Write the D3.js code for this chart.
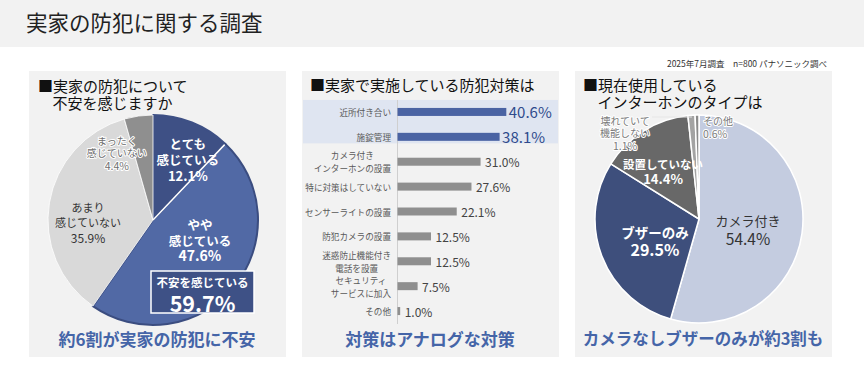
<!DOCTYPE html>
<html><head><meta charset="utf-8">
<script src="https://cdn.jsdelivr.net/npm/d3@7"></script>
<style>
body{margin:0;background:#fff;}
svg{display:block;font-family:"Noto Sans CJK JP","Noto Sans",sans-serif;}
</style></head>
<body>
<svg id="c" width="864" height="383"></svg>
<script>
// ---------- data ----------
const pageTitle = "実家の防犯に関する調査";
const footnote = "2025年7月調査　n=800 パナソニック調べ";

const anxietyTitle = ["■実家の防犯について", "不安を感じますか"];
const anxietyCats = ["とても\n感じている", "やや\n感じている", "あまり\n感じていない", "まったく\n感じていない"];
const anxietyValues = [12.1, 47.6, 35.9, 4.4];
const anxietyTotalLabel = "不安を感じている";
const anxietyTotal = 59.7;
const anxietyCaption = "約6割が実家の防犯に不安";

const measureTitle = "■実家で実施している防犯対策は";
const measureCats = ["近所付き合い", "施錠管理", "カメラ付き\nインターホンの設置", "特に対策はしていない",
  "センサーライトの設置", "防犯カメラの設置", "迷惑防止機能付き\n電話を設置", "セキュリティ\nサービスに加入", "その他"];
const measureValues = [40.6, 38.1, 31.0, 27.6, 22.1, 12.5, 12.5, 7.5, 1.0];
const measureCaption = "対策はアナログな対策";

const intercomTitle = ["■現在使用している", "インターホンのタイプは"];
const intercomCats = ["カメラ付き", "ブザーのみ", "設置していない", "壊れていて\n機能しない", "その他"];
const intercomValues = [54.4, 29.5, 14.4, 1.1, 0.6];
const intercomCaption = "カメラなしブザーのみが約3割も";

// ---------- layout / style ----------
const svg = d3.select("#c");
const panelFill = "#f2f2f2";
const captionColor = "#4565a8";
const fmt = v => v.toFixed(1) + "%";

svg.append("rect").attr("x",0).attr("y",0).attr("width",864).attr("height",47).attr("fill","#f2f2f2");
svg.append("text").attr("x",26).attr("y",31).attr("font-size",21.5).attr("fill","#222").text(pageTitle);
svg.append("text").attr("x",827).attr("y",67).attr("text-anchor","end").attr("font-size",8.5).attr("fill","#333").text(footnote);

const panels = [29, 302, 575];
panels.forEach(px => svg.append("rect").attr("x",px).attr("y",71).attr("width",257).attr("height",286).attr("fill",panelFill));

function multiline(g, x, y, lines, lh, attrs) {
  const t = g.append("text").attr("x",x).attr("y",y).attr("text-anchor","middle").attr("dominant-baseline","central");
  Object.entries(attrs||{}).forEach(([k,v]) => t.attr(k,v));
  const n = lines.length;
  lines.forEach((s,i) => t.append("tspan").attr("x",x).attr("y", y + (i-(n-1)/2)*lh).text(s));
  return t;
}
function polar(cx, cy, r, deg) {
  const a = deg*Math.PI/180;
  return [cx + r*Math.sin(a), cy - r*Math.cos(a)];
}

// ---------- left pie ----------
{
  const g = svg.append("g");
  g.append("text").attr("x",38).attr("y",91.5).attr("font-size",15).attr("fill","#111").text(anxietyTitle[0]);
  g.append("text").attr("x",52.5).attr("y",108.5).attr("font-size",15).attr("fill","#111").text(anxietyTitle[1]);
  const cx = 153, cy = 220, R = 105;
  const colors = ["#3e5085", "#5169a5", "#d9d9d9", "#8f8f8f"];
  const pie = d3.pie().sort(null).value(d => d)(anxietyValues);
  const arc = d3.arc().innerRadius(0).outerRadius(R);
  const pg = g.append("g").attr("transform",`translate(${cx},${cy})`);
  pg.selectAll("path").data(pie).join("path")
    .attr("d", arc).attr("fill",(d,i)=>colors[i])
    .attr("stroke",(d,i)=> i===1 ? "#3b4d80" : (i===0 ? "#3e5085" : "#fff"))
    .attr("stroke-width",(d,i)=> i<2 ? 2 : 0.8).attr("stroke-linejoin","round");
  // white separator between the two blue slices
  const sepA = pie[0].endAngle;
  pg.append("line").attr("x1",0).attr("y1",0)
    .attr("x2", (R-1)*Math.sin(sepA)).attr("y2", -(R-1)*Math.cos(sepA))
    .attr("stroke","#fff").attr("stroke-width",1.5);

  const lab = [
    {r:70, a:29.8, lh:16, size:[12.5,12.5,13], fill:"#fff", weight:"bold"},
    {r:51, a:113, lh:15.5, size:[12.5,12.5,14], fill:"#fff", weight:"bold"},
    {r:65, a:268.2, lh:15, size:[11,11,12], fill:"#333", weight:"normal"},
    {r:77, a:332, lh:12.5, size:[10,10,10.5], fill:"#6e6e6e", weight:"normal", halo:true}
  ];
  anxietyCats.forEach((c,i) => {
    const L = lab[i];
    const [x,y] = polar(cx, cy, L.r, L.a);
    const lines = c.split("\n").concat([fmt(anxietyValues[i])]);
    const t = multiline(g, x, y, lines, L.lh, {fill:L.fill, "font-weight":L.weight});
    t.selectAll("tspan").attr("font-size",(d,j)=>L.size[j]);
    if (L.halo) t.attr("stroke","#fff").attr("stroke-width",2).attr("paint-order","stroke").attr("stroke-linejoin","round");
  });

  // total box
  const bx = 151, by = 271, bw = 103, bh = 42;
  g.append("rect").attr("x",bx).attr("y",by).attr("width",bw).attr("height",bh)
    .attr("fill","#3e5186").attr("stroke","#fff").attr("stroke-width",1.5);
  g.append("text").attr("x",bx+bw/2).attr("y",by+11).attr("text-anchor","middle").attr("dominant-baseline","central")
    .attr("font-size",11.5).attr("font-weight","bold").attr("fill","#fff").text(anxietyTotalLabel);
  g.append("text").attr("x",bx+bw/2).attr("y",by+31).attr("text-anchor","middle").attr("dominant-baseline","central")
    .attr("font-size",21.5).attr("font-weight","bold").attr("fill","#fff").text(fmt(anxietyTotal));

  g.append("text").attr("x",157).attr("y",338).attr("text-anchor","middle").attr("dominant-baseline","central")
    .attr("font-size",17).attr("font-weight","bold").attr("fill",captionColor).text(anxietyCaption);
}

// ---------- middle bar chart ----------
{
  const g = svg.append("g");
  g.append("text").attr("x",310).attr("y",90.5).attr("font-size",15).attr("fill","#111").text(measureTitle);
  const x = d3.scaleLinear().domain([0,100]).range([397, 665]);
  const y = d3.scaleBand().domain(measureCats).range([99.5, 323.5]);
  const bw = y.bandwidth();
  // highlight band for top 2
  g.append("rect").attr("x",303).attr("width",255)
    .attr("y", y(measureCats[0]) + bw/2 - 12)
    .attr("height", (y(measureCats[1]) + bw/2 + 6.5) - (y(measureCats[0]) + bw/2 - 12))
    .attr("fill","#dfe5f1");
  // axis line
  const ax = g.append("g").attr("transform",`translate(${x(0)},0)`)
    .call(d3.axisLeft(y).tickSize(0).tickSizeOuter(0).tickFormat(""));
  ax.select(".domain").attr("stroke","#cfcfcf").attr("stroke-width",1);
  ax.selectAll(".tick").remove();

  const bh = 8;
  g.selectAll("rect.bar").data(measureValues).join("rect").attr("class","bar")
    .attr("x", x(0)+0.5).attr("y",(d,i)=> y(measureCats[i]) + bw/2 - bh/2)
    .attr("width", d => x(d)-x(0)).attr("height", bh)
    .attr("fill",(d,i)=> i<2 ? "#4a63a3" : "#8f8f8f");
  g.selectAll("text.val").data(measureValues).join("text").attr("class","val")
    .attr("x",(d,i)=> x(d) + (i<2 ? 3 : 5)).attr("y",(d,i)=> y(measureCats[i]) + bw/2)
    .attr("dominant-baseline","central")
    .attr("font-size",(d,i)=> i<2 ? 15 : 12)
    .attr("fill",(d,i)=> i<2 ? "#2f4b8c" : "#444")
    .text(d => fmt(d));

  measureCats.forEach((c,i) => {
    const lines = c.split("\n");
    const cy = y(c) + bw/2;
    const t = g.append("text").attr("y",cy).attr("dominant-baseline","central")
      .attr("font-size",8.6).attr("fill","#595959");
    if (lines.length === 1) {
      t.attr("x",391).attr("text-anchor","end").text(c);
    } else {
      t.attr("text-anchor","middle");
      lines.forEach((s,j)=> t.append("tspan").attr("y", cy + (j-(lines.length-1)/2)*13).text(s));
      const w = Math.max(...t.selectAll("tspan").nodes().map(n => n.getComputedTextLength()));
      t.selectAll("tspan").attr("x", 391 - w/2);
    }
  });

  g.append("text").attr("x",430).attr("y",338).attr("text-anchor","middle").attr("dominant-baseline","central")
    .attr("font-size",17).attr("font-weight","bold").attr("fill",captionColor).text(measureCaption);
}

// ---------- right pie ----------
{
  const g = svg.append("g");
  g.append("text").attr("x",583).attr("y",90.5).attr("font-size",15).attr("fill","#111").text(intercomTitle[0]);
  g.append("text").attr("x",597.5).attr("y",107.5).attr("font-size",15).attr("fill","#111").text(intercomTitle[1]);
  const cx = 699, cy = 219, R = 104;
  const colors = ["#c4cce0", "#3e4f7c", "#686868", "#a3a3a3", "#8a8a8a"];
  const pie = d3.pie().sort(null).value(d => d)(intercomValues);
  const arc = d3.arc().innerRadius(0).outerRadius(R);
  const pg = g.append("g").attr("transform",`translate(${cx},${cy})`);
  pg.selectAll("path").data(pie).join("path")
    .attr("d", arc).attr("fill",(d,i)=>colors[i])
    .attr("stroke","#fff").attr("stroke-width",1.5).attr("stroke-linejoin","round");

  // leader line for the small slice
  const mid = (pie[3].startAngle + pie[3].endAngle)/2;
  const lx = cx + (R-6)*Math.sin(mid);
  g.append("line").attr("x1",652).attr("y1",117).attr("x2",lx).attr("y2",117).attr("stroke","#e6e6e6").attr("stroke-width",1);

  const lab = [
    {r:50, a:101.5, lh:18, size:[13,15.5], fill:"#333", weight:"normal"},
    {r:48.8, a:244.5, lh:17, size:[13.5,16], fill:"#fff", weight:"bold"},
    {r:59.6, a:322.9, lh:14, size:[11.5,13], fill:"#fff", weight:"bold"},
    {r:114, a:319.6, lh:12.5, size:[10,10,10.5], fill:"#7a7a7a", weight:"normal", halo:true},
    {r:92.6, a:2.5, lh:13, size:[10,10.5], fill:"#7a7a7a", weight:"normal", halo:true, start:true}
  ];
  intercomCats.forEach((c,i) => {
    const L = lab[i];
    const [x,y] = polar(cx, cy, L.r, L.a);
    const lines = c.split("\n").concat([fmt(intercomValues[i])]);
    const t = multiline(g, x, y, lines, L.lh, {fill:L.fill, "font-weight":L.weight});
    t.selectAll("tspan").attr("font-size",(d,j)=>L.size[j]);
    if (L.start) t.attr("text-anchor","start");
    if (L.halo) t.attr("stroke","#fff").attr("stroke-width",2).attr("paint-order","stroke").attr("stroke-linejoin","round");
  });

  g.append("text").attr("x",703).attr("y",338).attr("text-anchor","middle").attr("dominant-baseline","central")
    .attr("font-size",16.5).attr("font-weight","bold").attr("fill",captionColor).text(intercomCaption);
}
</script>
</body></html>
